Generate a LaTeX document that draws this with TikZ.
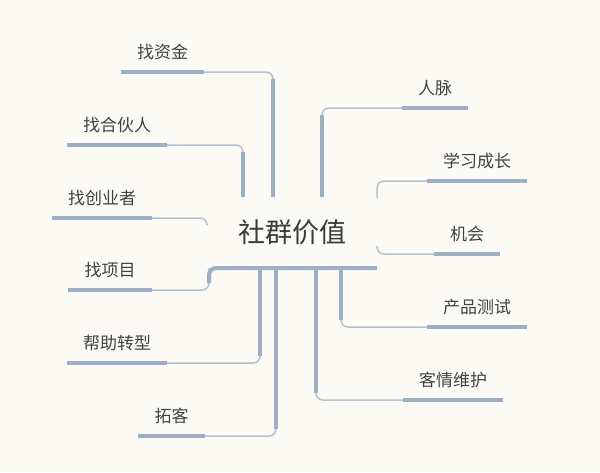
\documentclass[tikz,border=0pt]{standalone}
\usepackage{fontspec}
\setmainfont{Noto Sans CJK SC}
\usepackage{tikz}
\usetikzlibrary{calc}

\definecolor{paper}{HTML}{FCFAF4}
\definecolor{barblue}{HTML}{9CAFC4}
\definecolor{twigblue}{HTML}{B4C1D0}
\definecolor{inkgray}{HTML}{424242}

\begin{document}
\begin{tikzpicture}[
    x=1pt, y=-1pt,
    root/.style={font=\fontsize{27}{30}\selectfont, text=inkgray!90!black, inner sep=0pt},
    topic/.style={font=\fontsize{17}{20}\selectfont, text=inkgray, inner xsep=16pt, inner ysep=13.5pt, text depth=0pt, anchor=south},
    bar/.style={draw=barblue, line width=4pt},
    twig/.style={draw=twigblue, line width=1.5pt, rounded corners=7pt}
]
    \fill[paper] (0,0) rectangle (600,472);
    \useasboundingbox (0,0) rectangle (600,472);

    % Centre
    \node[root, anchor=base] (Root) at (292,242) {社群价值};
    \coordinate (HubL) at (209,268);
    \coordinate (HubR) at (377,268);

    % Topics, left side
    \node[topic] (Zijin)    at (162.5,72)  {找资金};
    \node[topic] (Huoban)   at (117,145)   {找合伙人};
    \node[topic] (Chuangye) at (102,218)   {找创业者};
    \node[topic] (Xiangmu)  at (110,290)   {找项目};
    \node[topic] (Zhuanxing) at (117,363)  {帮助转型};
    \node[topic] (Tuoke)    at (171.5,436) {拓客};

    % Topics, right side
    \node[topic] (Renmai)   at (435,108)   {人脉};
    \node[topic] (Xuexi)    at (477,181)   {学习成长};
    \node[topic] (Jihui)    at (467,254)   {机会};
    \node[topic] (Chanpin)  at (477,327)   {产品测试};
    \node[topic] (Keqing)   at (453,400)   {客情维护};

    % Stem ends round the centre
    \coordinate (StZijin)    at (273,197);
    \coordinate (StHuoban)   at (243,197);
    \coordinate (StChuangye) at (207,224);
    \coordinate (StRenmai)   at (322,197);
    \coordinate (StXuexi)    at (377,198);
    \coordinate (StJihui)    at (377,246);
    \coordinate (StZhuanxing) at (260,268);
    \coordinate (StTuoke)    at (276,268);
    \coordinate (StKeqing)   at (316,268);
    \coordinate (StChanpin)  at (341,268);

    % Underlines
    \foreach \t in {Zijin,Huoban,Chuangye,Xiangmu,Zhuanxing,Tuoke,Renmai,Xuexi,Jihui,Chanpin,Keqing}
        \draw[bar] (\t.south west) -- (\t.south east);

    % Connectors, upper half
    \draw[twig] (Zijin.south east) -| (StZijin);
    \draw[bar]  (StZijin) -- ($(StZijin |- Zijin.south)+(0,7)$);
    \draw[twig] (Huoban.south east) -| (StHuoban);
    \draw[bar]  (StHuoban) -- ($(StHuoban |- Huoban.south)+(0,7)$);
    \draw[twig] (Chuangye.south east) -| (StChuangye);
    \draw[twig] (Renmai.south west) -| (StRenmai);
    \draw[bar]  (StRenmai) -- ($(StRenmai |- Renmai.south)+(0,7)$);
    \draw[twig] (Xuexi.south west) -| (StXuexi);
    \draw[twig] (Jihui.south west) -| (StJihui);

    % Connectors, lower half
    \draw[twig] (Xiangmu.south east) -| (HubL);
    \draw[bar, rounded corners=7pt] ($(HubL)+(0,15)$) -- (HubL) -- (HubR);
    \draw[twig] (StZhuanxing) |- (Zhuanxing.south east);
    \draw[bar]  (StZhuanxing) -- ($(StZhuanxing |- Zhuanxing.south)+(0,-7)$);
    \draw[twig] (StTuoke) |- (Tuoke.south east);
    \draw[bar]  (StTuoke) -- ($(StTuoke |- Tuoke.south)+(0,-7)$);
    \draw[twig] (StKeqing) |- (Keqing.south west);
    \draw[bar]  (StKeqing) -- ($(StKeqing |- Keqing.south)+(0,-7)$);
    \draw[twig] (StChanpin) |- (Chanpin.south west);
    \draw[bar]  (StChanpin) -- ($(StChanpin |- Chanpin.south)+(0,-7)$);

\end{tikzpicture}
\end{document}
